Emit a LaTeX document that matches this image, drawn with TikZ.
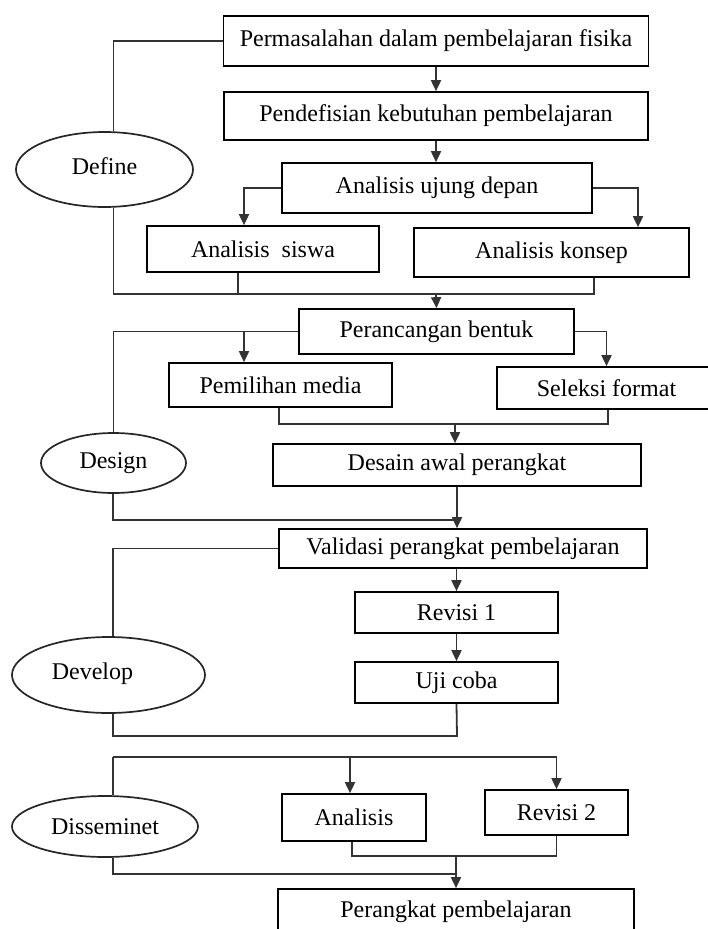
\documentclass[tikz,border=0pt]{standalone}
\usepackage{fontspec}
\setmainfont{Liberation Serif}
\usetikzlibrary{shapes.geometric,arrows.meta}
\begin{document}
\begin{tikzpicture}[x=1pt,y=-1pt,
  box/.style={draw=black,line width=1.7pt,rectangle,inner sep=0pt,fill=white,
    font=\fontsize{24}{28}\selectfont},
  oval/.style={draw=black!85,line width=1.7pt,ellipse,inner sep=0pt,fill=white,
    font=\fontsize{24}{28}\selectfont},
  conn/.style={draw=black!80,line width=1.8pt},
  arr/.style={conn,-{Triangle[length=11pt,width=10pt]}}]
\useasboundingbox (0,0) rectangle (708,929);
\clip (0,0) rectangle (708,929);
\fill[white] (0,0) rectangle (708,929);

% ---------- nodes ----------
% Define
\node[box,minimum width=425,minimum height=50] (b1) at (436,41) {\raisebox{3pt}{Permasalahan dalam pembelajaran fisika}};
\node[box,minimum width=424,minimum height=48] (b2) at (436,116) {Pendefisian kebutuhan pembelajaran};
\node[box,minimum width=310,minimum height=50] (b3) at (437,188) {Analisis ujung depan};
\node[box,minimum width=232,minimum height=46] (b4) at (263,249) {Analisis\ \ siswa};
\node[box,minimum width=275,minimum height=49] (b5) at (551.5,252.5) {Analisis konsep};
\node[oval,minimum width=177,minimum height=75] (def) at (104.5,169.5) {\raisebox{6pt}{Define}};
% Design
\node[box,minimum width=275,minimum height=45] (b6) at (436.5,331.5) {Perancangan bentuk\hspace{50pt}};
\node[box,minimum width=223,minimum height=44] (b7) at (280.5,385) {Pemilihan media};
\node[box,minimum width=219,minimum height=42] (b8) at (606.5,388) {Seleksi format\hspace{8pt}};
\node[box,minimum width=368,minimum height=42] (b9) at (457,465) {Desain awal perangkat};
\node[oval,minimum width=145,minimum height=60] (des) at (113.5,463) {Design\hspace{12pt}};
% Develop
\node[box,minimum width=368,minimum height=39] (b10) at (463,548.5) {Validasi perangkat pembelajaran};
\node[box,minimum width=203,minimum height=41] (b11) at (456.5,612.5) {Revisi 1};
\node[box,minimum width=203,minimum height=41] (b12) at (456.5,682.5) {Uji coba};
\node[oval,minimum width=193,minimum height=76] (dev) at (108.5,675) {\raisebox{7pt}{Develop\hspace{32pt}}};
% Disseminet
\node[box,minimum width=144,minimum height=47] (b13) at (354,817.5) {Analisis};
\node[box,minimum width=143,minimum height=45] (b14) at (556.5,812.5) {Revisi 2};
\node[oval,minimum width=186,minimum height=61] (dis) at (105,826.5) {Disseminet};
\node[box,minimum width=356,minimum height=46] (b15) at (456,912) {Perangkat pembelajaran};

% ---------- junction coordinates ----------
\coordinate (j1) at (436,294);
\coordinate (j2) at (455,424);
\coordinate (j3) at (457,520);
\coordinate (j4) at (457,736);
\coordinate (j5) at (113,757);
\coordinate (j6) at (456,856);
\coordinate (j7) at (456,874);

% ---------- connectors (Define) ----------
\draw[conn] (b1.west) -| ([xshift=9pt]def.north);
\draw[conn] ([xshift=9pt]def.south) |- (j1) -| ([xshift=42.5pt]b5.south);
\draw[conn] ([xshift=-25pt]b4.south) -- ([xshift=-25pt]b4.south |- j1);
\draw[arr] (j1) -- (b6.north);
\draw[arr] (b1.south) -- (b2.north);
\draw[arr] (b2.south) -- (b2.south |- b3.north);
\draw[arr] (b3.west) -| ([xshift=-19pt]b4.north);
\draw[arr] (b3.east) -| ([xshift=86.5pt]b5.north);
% Design
\draw[conn] (b6.west) -| (des.north);
\draw[arr] ([xshift=-36.5pt]b7.north |- b6.west) -- ([xshift=-36.5pt]b7.north);
\draw[arr] (b6.east) -| (b8.north);
\draw[conn] ([xshift=-1.5pt]b7.south) |- (j2) -| ([xshift=1.5pt]b8.south);
\draw[arr] (j2) -- (j2 |- b9.north);
\draw[conn] ([xshift=-0.5pt]des.south) |- (j3);
\draw[conn] (b9.south) -- (j3);
\draw[arr] (j3) -- (j3 |- b10.north);
% Develop
\draw[conn] (b10.west) -| ([xshift=4.5pt]dev.north);
\draw[arr] (b11.north |- b10.south) -- (b11.north);
\draw[arr] (b11.south) -- (b12.north);
\draw[conn] ([xshift=4.5pt]dev.south) |- (j4) -- (b12.south);
% Disseminet
\draw[conn] ([xshift=8pt]dis.north) -- (j5);
\draw[arr] (j5) -| (b14.north);
\draw[arr] ([xshift=-4pt]b13.north |- j5) -- ([xshift=-4pt]b13.north);
\draw[conn] ([xshift=-2pt]b13.south) |- (j6) -| (b14.south);
\draw[conn] ([xshift=8pt]dis.south) |- (j7);
\draw[arr] (j6) -- (b15.north);
\end{tikzpicture}
\end{document}
